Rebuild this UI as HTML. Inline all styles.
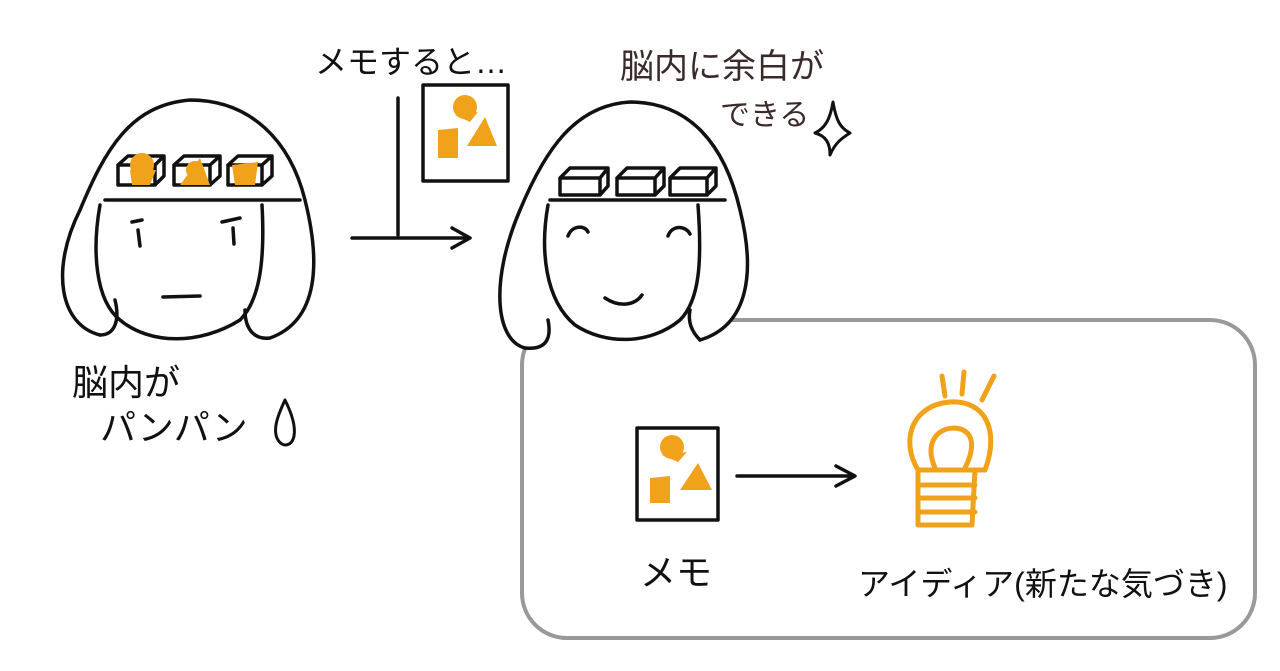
<!DOCTYPE html>
<html><head><meta charset="utf-8"><style>
html,body{margin:0;padding:0;background:#fff;}
svg{display:block}
text{font-family:"Liberation Sans","Noto Sans CJK JP",sans-serif;}
</style></head><body>
<svg width="1280" height="671" viewBox="0 0 1280 671" xmlns="http://www.w3.org/2000/svg">
<g fill="none" stroke="#111" stroke-width="3.5" stroke-linecap="round" stroke-linejoin="round">
<rect x="522" y="320" width="733" height="318" rx="45" stroke="#999" stroke-width="4"/>

<path d="M100,335 C60,325 50,270 80,210 C105,150 130,105 190,100 C250,100 290,140 305,200 C320,260 320,320 270,338 C255,340 245,330 245,310" fill="#fff"/>
<path d="M100,335 C115,335 120,320 115,300"/>
<path d="M105,200 L300,200"/>
<path d="M100,205 C92,250 95,300 120,320 C150,345 200,345 240,320 C260,300 265,260 262,205"/>
<path d="M132,222 L142,220 M138,230 L140,246"/>
<path d="M222,222 L240,218 M233,228 L234,244"/>
<path d="M163,297 L200,296"/>
<g fill="#fff">
<path d="M118,165 L155,165 L155,185 L118,185 Z M118,165 L128,156 L164,156 L155,165 M155,185 L164,176 L164,156"/>
<path d="M174,165 L210,165 L210,185 L174,185 Z M174,165 L184,156 L220,156 L210,165 M210,185 L220,176 L220,156"/>
<path d="M228,165 L262,165 L262,185 L228,185 Z M228,165 L238,156 L272,156 L262,165 M262,185 L272,176 L272,156"/>
</g>
<g fill="#f0a21a" stroke="none">
<circle cx="142" cy="165" r="12"/><path d="M130,170 L156,170 L150,185 L132,185Z"/>
<path d="M180,185 L200,158 L210,185Z"/><circle cx="195" cy="170" r="9"/>
<path d="M232,165 L258,162 L255,185 L235,185Z"/>
</g>

<path d="M398,98 L398,235"/>
<path d="M352,238 L468,238 M452,228 L470,238 L452,248"/>
<rect x="423" y="85" width="85" height="96" fill="#fff"/>
<g fill="#f0a21a" stroke="none">
<circle cx="465" cy="107" r="12"/><path d="M455,115 L478,112 L470,122Z"/>
<path d="M438,130 L458,128 L458,158 L438,158Z"/>
<path d="M467,146 L485,117 L497,146Z"/>
</g>

<path d="M525,348 C495,340 490,280 520,210 C545,150 575,105 630,102 C690,102 725,145 740,210 C755,270 750,325 700,340" fill="#fff"/>
<path d="M525,348 C545,350 552,340 548,320"/>
<path d="M700,340 C690,330 688,320 690,310"/>
<path d="M550,200 L725,200"/>
<path d="M548,205 C540,250 545,300 575,325 C605,345 650,345 680,320 C700,300 702,260 698,205"/>
<path d="M568,236 C572,225 585,225 588,232"/>
<path d="M668,236 C672,225 685,225 690,234"/>
<path d="M605,298 C620,308 635,305 642,295"/>
<g fill="#fff">
<path d="M560,178 L600,178 L600,195 L560,195 Z M560,178 L570,168 L608,168 L600,178 M600,195 L608,186 L608,168"/>
<path d="M617,178 L655,178 L655,195 L617,195 Z M617,178 L627,168 L664,168 L655,178 M655,195 L664,186 L664,168"/>
<path d="M670,178 L707,178 L707,195 L670,195 Z M670,178 L680,168 L716,168 L707,178 M707,195 L716,186 L716,168"/>
</g>
<path d="M833,102 C830,120 825,128 815,133 C826,136 830,143 830,155 C835,143 842,138 850,133 C840,128 836,120 833,102Z" stroke-width="3"/>
<!-- drop -->
<path d="M285,400 C278,415 272,430 278,440 C283,448 292,446 294,436 C296,425 290,410 285,400Z" stroke-width="3"/>

<rect x="637" y="428" width="81" height="92"/>
<g fill="#f0a21a" stroke="none">
<circle cx="672" cy="447" r="12"/><path d="M662,455 L687,452 L678,462Z"/>
<path d="M650,478 L670,476 L670,503 L650,503Z"/>
<path d="M680,490 L698,463 L712,490Z"/>
</g>
<path d="M737,476 L852,476 M836,466 L855,476 L836,486"/>
<g stroke="#f0a21a" stroke-width="5">
<path d="M942,376 L945,396 M964,372 L962,394 M994,376 L982,400"/>
<path d="M918,470 C900,440 912,405 950,402 C985,400 1000,430 985,470"/>
<path d="M935,468 C925,445 935,428 955,428 C975,430 975,448 965,468"/>
<path d="M918,470 L985,470 M920,485 L975,485 M918,498 L975,498 M918,512 L975,512 M920,525 L972,525 M918,470 L918,525 M975,470 L972,525"/>
</g>
</g>

<g fill="#111" font-size="34">
<text x="315" y="73" font-size="32">メモすると…</text>
<text x="620" y="78" font-size="34" fill="#3a2a2a">脳内に余白が</text>
<text x="720" y="125" font-size="30" fill="#3a2a2a">できる</text>
<text x="72" y="395" font-size="36">脳内が</text>
<text x="100" y="440" font-size="36">パンパン</text>
<text x="640" y="585" font-size="36">メモ</text>
<text x="858" y="595" font-size="32">アイディア(新たな気づき)</text>
</g>
</svg>
</body></html>
